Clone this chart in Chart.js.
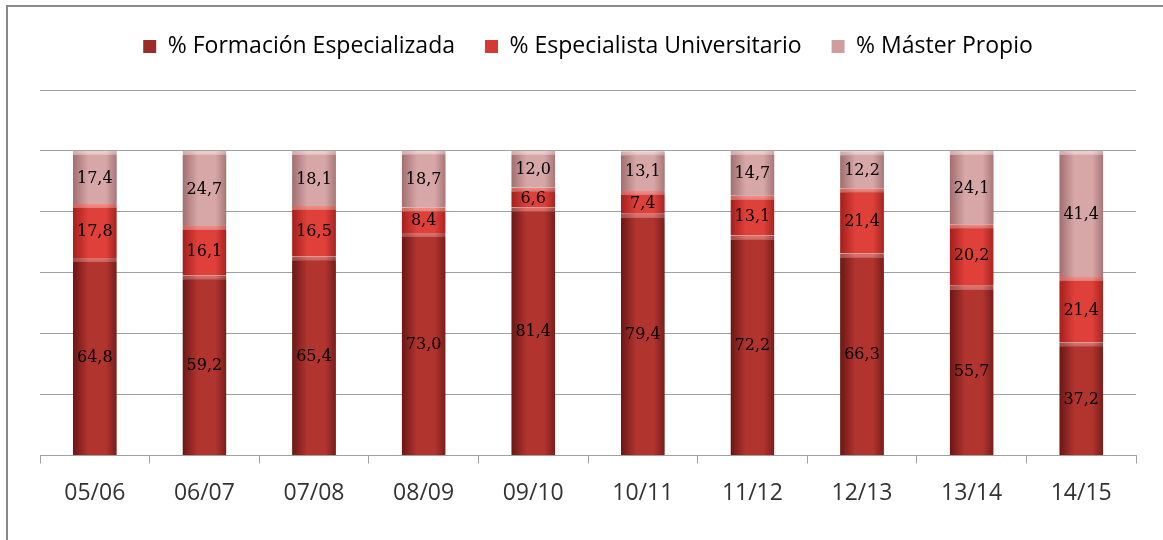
<!DOCTYPE html>
<html>
<head>
<meta charset="utf-8">
<script src="https://cdn.jsdelivr.net/npm/chart.js@4/dist/chart.umd.min.js"></script>
<style>
  html, body { margin: 0; padding: 0; background: #fff; }
  #wrap { position: relative; width: 1163px; height: 540px; overflow: hidden; }
  #frame { position: absolute; left: 6px; top: 5px; width: 1170px; height: 560px;
           border-left: 2px solid #8a8a8a; border-top: 2px solid #8a8a8a; }
  canvas { position: absolute; left: 0; top: 0; }
</style>
</head>
<body>
<div id="wrap">
  <div id="frame"></div>
  <canvas id="myChart" width="1163" height="540"></canvas>
</div>
<script>
  var categories = ['05/06', '06/07', '07/08', '08/09', '09/10', '10/11', '11/12', '12/13', '13/14', '14/15'];
  var formacion = [64.8, 59.2, 65.4, 73.0, 81.4, 79.4, 72.2, 66.3, 55.7, 37.2];
  var especialista = [17.8, 16.1, 16.5, 8.4, 6.6, 7.4, 13.1, 21.4, 20.2, 21.4];
  var master = [17.4, 24.7, 18.1, 18.7, 12.0, 13.1, 14.7, 12.2, 24.1, 41.4];
  var yTicks = [0, 20, 40, 60, 80, 100, 120];

  // horizontal shading for each bar, like the bevelled Excel bars
  function barFill(stops) {
    return function (ctx) {
      var chart = ctx.chart;
      var area = chart.chartArea;
      if (!area || !chart.scales.x) return stops[1];
      var x = chart.scales.x.getPixelForValue(ctx.dataIndex);
      var w = (area.right - area.left) / categories.length * 0.4;
      var g = chart.ctx.createLinearGradient(x - w / 2, 0, x + w / 2, 0);
      g.addColorStop(0, stops[0]);
      g.addColorStop(0.35, stops[1]);
      g.addColorStop(0.75, stops[1]);
      g.addColorStop(1, stops[2]);
      return g;
    };
  }

  var solid = ['#9b2b28', '#d63a35', '#cf9d9d'];

  var barLook = {
    id: 'barLook',
    beforeDatasetsDraw: function (chart) {
      var c = chart.ctx;
      c.save();
      c.shadowColor = 'rgba(0,0,0,0.35)';
      c.shadowBlur = 5;
      c.shadowOffsetX = 3;
      c.shadowOffsetY = 1;
    },
    afterDatasetsDraw: function (chart) {
      var c = chart.ctx;
      c.restore();
      c.save();
      c.font = '16px "DejaVu Serif"';
      c.fillStyle = '#000';
      c.textAlign = 'center';
      c.textBaseline = 'middle';
      chart.data.datasets.forEach(function (ds, i) {
        var meta = chart.getDatasetMeta(i);
        meta.data.forEach(function (bar, j) {
          var txt = ds.data[j].toFixed(1).replace('.', ',');
          c.fillText(txt, bar.x, (bar.y + bar.base) / 2 + 1);
        });
      });
      c.restore();
    }
  };

  var legendGap = {
    id: 'legendGap',
    beforeInit: function (chart) {
      var fit = chart.legend.fit;
      chart.legend.fit = function () {
        fit.bind(chart.legend)();
        this.height += 22;
      };
    }
  };

  new Chart(document.getElementById('myChart'), {
    type: 'bar',
    data: {
      labels: categories,
      datasets: [{
        label: '% Formación Especializada',
        data: formacion,
        backgroundColor: barFill(['#6a1715', '#b2342f', '#7a1d1a']),
        borderColor: barFill(['#a04a47', '#e0706a', '#a04a47']),
        borderWidth: { top: 4, left: 0, right: 0, bottom: 0 },
        categoryPercentage: 1,
        barPercentage: 0.4
      }, {
        label: '% Especialista Universitario',
        data: especialista,
        backgroundColor: barFill(['#a41f1c', '#df403a', '#a82420']),
        borderColor: barFill(['#d0605a', '#f48a84', '#d0605a']),
        borderWidth: { top: 4, left: 0, right: 0, bottom: 0 },
        categoryPercentage: 1,
        barPercentage: 0.4
      }, {
        label: '% Máster Propio',
        data: master,
        backgroundColor: barFill(['#a06e6e', '#d7a6a6', '#a87676']),
        borderColor: barFill(['#d4a9a9', '#f2d0d0', '#d4a9a9']),
        borderWidth: { top: 4, left: 0, right: 0, bottom: 0 },
        categoryPercentage: 1,
        barPercentage: 0.4
      }]
    },
    options: {
      responsive: false,
      animation: false,
      layout: { padding: { left: 40, right: 27, top: 5, bottom: 17 } },
      scales: {
        x: {
          stacked: true,
          grid: { drawOnChartArea: false, drawTicks: true, tickLength: 8, color: '#a0a0a0' },
          border: { color: '#a0a0a0' },
          ticks: { color: '#333', padding: 16, font: { family: "'Open Sans'", size: 23 } }
        },
        y: {
          stacked: true,
          min: 0,
          max: 120,
          afterBuildTicks: function (axis) {
            axis.ticks = yTicks.map(function (v) { return { value: v }; });
          },
          ticks: { display: false },
          grid: { color: '#a0a0a0', drawTicks: false },
          border: { display: false }
        }
      },
      plugins: {
        tooltip: { enabled: false },
        legend: {
          position: 'top',
          labels: {
            boxWidth: 13,
            boxHeight: 13,
            padding: 30,
            color: '#333',
            font: { family: "'Open Sans'", size: 23 },
            generateLabels: function (chart) {
              return chart.data.datasets.map(function (ds, i) {
                return {
                  text: ds.label,
                  fillStyle: solid[i],
                  strokeStyle: solid[i],
                  lineWidth: 0,
                  hidden: false,
                  datasetIndex: i
                };
              });
            }
          }
        }
      }
    },
    plugins: [barLook, legendGap]
  });
</script>
</body>
</html>
